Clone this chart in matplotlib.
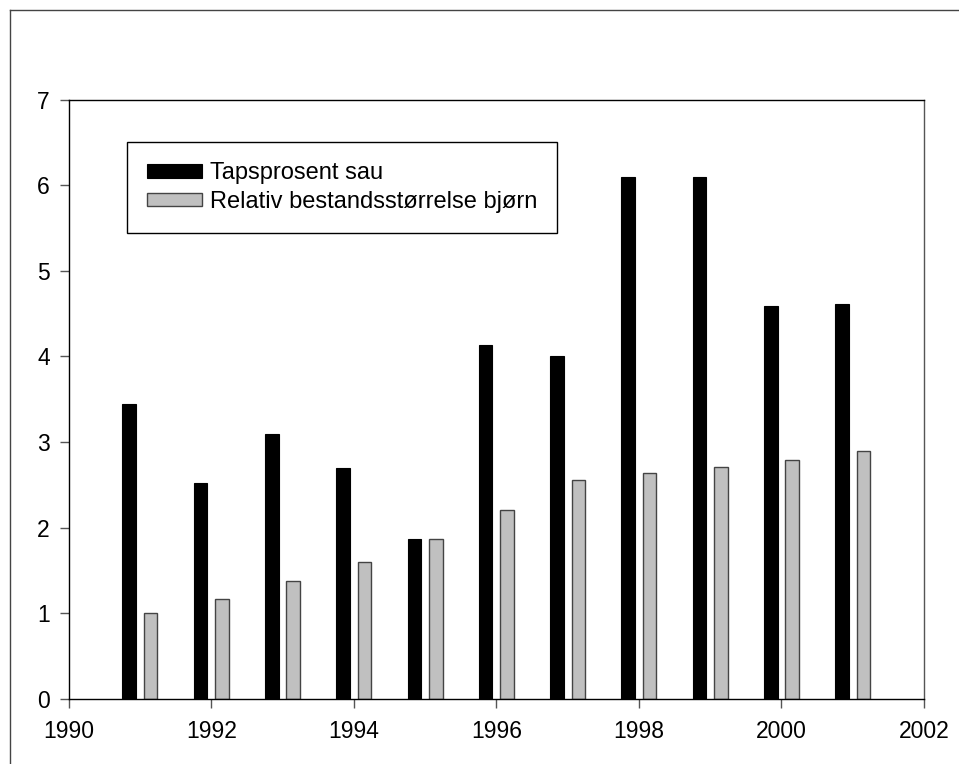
import matplotlib
matplotlib.use("Agg")
import matplotlib.pyplot as plt
from matplotlib.lines import Line2D
import numpy as np

plt.rcParams["font.family"] = ["Liberation Sans", "DejaVu Sans"]

# data
years = [1991, 1992, 1993, 1994, 1995, 1996, 1997, 1998, 1999, 2000, 2001]
tap_sau = [3.44, 2.52, 3.09, 2.70, 1.87, 4.13, 4.00, 6.10, 6.10, 4.59, 4.61]
bjorn = [1.00, 1.17, 1.37, 1.60, 1.87, 2.20, 2.56, 2.64, 2.71, 2.79, 2.89]
labels = ["Tapsprosent sau", "Relativ bestandsstørrelse bjørn"]
xticks = [1990, 1992, 1994, 1996, 1998, 2000, 2002]
yticks = [0, 1, 2, 3, 4, 5, 6, 7]

FS = 16.5
LFS = 17.0
W = 0.19
OFF = 0.15

fig = plt.figure(figsize=(9.59, 7.64), dpi=100)
ax = fig.add_axes([0.0716, 0.0855, 0.8919, 0.784])

x = np.array(years)
ax.bar(x - OFF, tap_sau, width=W, color="black", edgecolor="black",
       linewidth=0.8, label=labels[0])
ax.bar(x + OFF, bjorn, width=W, color="#c0c0c0", edgecolor="#444444",
       linewidth=1.0, label=labels[1])

ax.set_xlim(1990, 2002)
ax.set_ylim(0, 7)
ax.set_xticks(xticks)
ax.set_yticks(yticks)
ax.tick_params(axis="both", direction="out", length=6.5, width=1.0,
               color="#555555", labelsize=FS)
ax.tick_params(axis="x", pad=9)
ax.tick_params(axis="y", pad=7)
for s in ax.spines.values():
    s.set_linewidth(1.0)
    s.set_color("black")
ax.spines["right"].set_color("#555555")

leg = ax.legend(loc="upper left", bbox_to_anchor=(0.0685, 0.929),
                borderaxespad=0, fontsize=LFS, fancybox=False, framealpha=1,
                edgecolor="black", handlelength=2.3, handleheight=0.5,
                handletextpad=0.35, labelspacing=0.28, borderpad=0.85)
leg.get_frame().set_linewidth(1.0)

# outer frame (only top and left visible in the reference)
fig.add_artist(Line2D([10 / 959, 10 / 959], [0, 1 - 10 / 764],
                      transform=fig.transFigure, color="#444444", lw=1.0))
fig.add_artist(Line2D([10 / 959, 1], [1 - 10 / 764, 1 - 10 / 764],
                      transform=fig.transFigure, color="#444444", lw=1.0))

fig.savefig("out.png", dpi=100, facecolor="white")
